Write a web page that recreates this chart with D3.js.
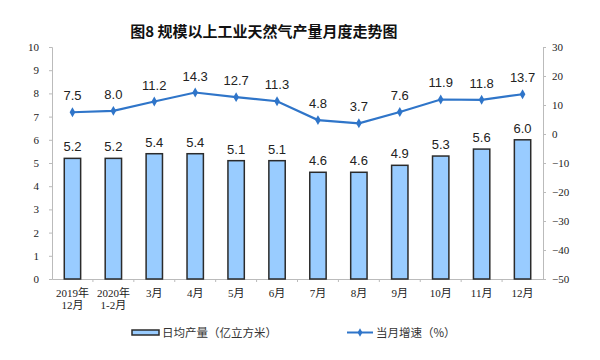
<!DOCTYPE html>
<html><head><meta charset="utf-8">
<script src="https://cdn.jsdelivr.net/npm/d3@7"></script>
<style>body{margin:0;background:#fff}</style>
</head><body>
<svg id="c" width="600" height="360"></svg>
<script>
const categories = [["2019年","12月"],["2020年","1-2月"],["3月"],["4月"],["5月"],["6月"],["7月"],["8月"],["9月"],["10月"],["11月"],["12月"]];
const dailyOutput = [5.2,5.2,5.4,5.4,5.1,5.1,4.6,4.6,4.9,5.3,5.6,6.0];
const growthRate = [7.5,8.0,11.2,14.3,12.7,11.3,4.8,3.7,7.6,11.9,11.8,13.7];
const leftTicks = [0,1,2,3,4,5,6,7,8,9,10];
const rightTicks = [-50,-40,-30,-20,-10,0,10,20,30];

const svg = d3.select("#c");
const L=52,R=543,T=47,B=279;
const keys = categories.map((d,i)=>i);
const x = d3.scaleBand().domain(keys).range([L,R]).paddingInner(0.6).paddingOuter(0.3);
const xb = d3.scaleBand().domain(keys).range([L,R]);
const yL = d3.scaleLinear().domain([0,10]).range([B,T]);
const yR = d3.scaleLinear().domain([-50,30]).range([B,T]);
const axisColor="#bbb";
const serif="'Liberation Serif','Times New Roman',serif";
const sans="'Liberation Sans',Arial,'Noto Sans CJK SC',sans-serif";
const cjk="'Noto Sans CJK SC',sans-serif";

svg.append("text").attr("x",264).attr("y",37).attr("text-anchor","middle")
  .attr("font-family",cjk).attr("font-weight","bold")
  .attr("font-size",15).attr("fill","#111").text("图8 规模以上工业天然气产量月度走势图");

const gL = svg.append("g").attr("transform",`translate(${L},0)`)
  .call(d3.axisLeft(yL).tickValues(leftTicks).tickSize(3).tickPadding(10));
const gR = svg.append("g").attr("transform",`translate(${R},0)`)
  .call(d3.axisRight(yR).tickValues(rightTicks).tickSize(3).tickPadding(6));
const gX = svg.append("g").attr("transform",`translate(0,${B})`)
  .call(d3.axisBottom(xb).tickValues([]).tickSize(0));
[gL,gR,gX].forEach(g=>{
  g.select(".domain").attr("stroke",axisColor);
  g.selectAll(".tick line").attr("stroke",axisColor);
  g.selectAll("text").attr("font-family",serif).attr("font-size",11).attr("fill","#222");
});
svg.append("g").selectAll("line").data(keys.slice(1)).join("line")
  .attr("x1",d=>xb(d)).attr("x2",d=>xb(d)).attr("y1",B).attr("y2",B+3).attr("stroke",axisColor);
const xl = svg.append("g").selectAll("text").data(keys).join("text")
  .attr("x",d=>xb(d)+xb.bandwidth()/2).attr("y",297).attr("text-anchor","middle")
  .attr("font-family","'Liberation Serif','Noto Sans CJK SC',serif").attr("font-size",11).attr("fill","#222");
xl.each(function(d){
  const t=d3.select(this);
  categories[d].forEach((s,j)=>t.append("tspan").attr("x",xb(d)+xb.bandwidth()/2).attr("dy",j?12:0).text(s));
});

svg.append("g").selectAll("rect").data(keys).join("rect")
  .attr("x",d=>x(d)).attr("width",x.bandwidth())
  .attr("y",d=>yL(dailyOutput[d])).attr("height",d=>B-yL(dailyOutput[d]))
  .attr("fill","#99ccff").attr("stroke","#2b2b2b").attr("stroke-width",1.5);
svg.append("g").selectAll("text").data(keys).join("text")
  .attr("x",d=>x(d)+x.bandwidth()/2).attr("y",d=>yL(dailyOutput[d])-7)
  .attr("text-anchor","middle").attr("font-family",sans).attr("font-size",13).attr("fill","#222")
  .text(d=>dailyOutput[d].toFixed(1));

const cx = d=>xb(d)+xb.bandwidth()/2;
svg.append("path").datum(keys)
  .attr("d",d3.line().x(cx).y(d=>yR(growthRate[d])))
  .attr("fill","none").attr("stroke","#2f75c9").attr("stroke-width",2.2);
svg.append("g").selectAll("path").data(keys).join("path")
  .attr("transform",d=>`translate(${cx(d)},${yR(growthRate[d])})`)
  .attr("d",d3.symbol().type(d3.symbolDiamond).size(28)).attr("fill","#2f75c9");
svg.append("g").selectAll("text").data(keys).join("text")
  .attr("x",cx).attr("y",d=>yR(growthRate[d])-12)
  .attr("text-anchor","middle").attr("font-family",sans).attr("font-size",13).attr("fill","#222")
  .text(d=>growthRate[d].toFixed(1));

const lg = svg.append("g");
lg.append("rect").attr("x",132).attr("y",330).attr("width",27).attr("height",5)
  .attr("fill","#99ccff").attr("stroke","#2b2b2b").attr("stroke-width",1.5);
lg.append("text").attr("x",162).attr("y",337).attr("font-family",cjk)
  .attr("font-size",11.5).attr("fill","#333").text("日均产量（亿立方米）");
lg.append("line").attr("x1",347).attr("x2",373).attr("y1",332.5).attr("y2",332.5).attr("stroke","#2f75c9").attr("stroke-width",2);
lg.append("path").attr("transform","translate(360,332.5)").attr("d",d3.symbol().type(d3.symbolDiamond).size(20)).attr("fill","#2f75c9");
lg.append("text").attr("x",376).attr("y",337).attr("font-family",cjk)
  .attr("font-size",11.5).attr("fill","#333").text("当月增速（%）");
</script>
</body></html>
